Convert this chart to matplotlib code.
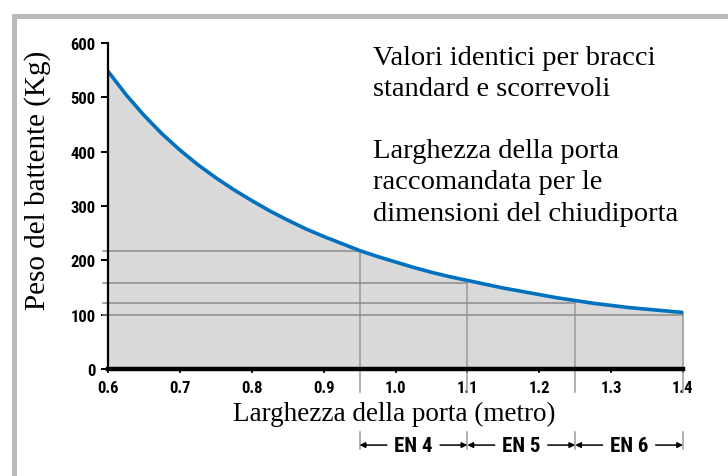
import matplotlib
matplotlib.use("Agg")
import matplotlib.pyplot as plt
from matplotlib.patches import Rectangle
import numpy as np

# Dati
larghezza = [0.600, 0.625, 0.650, 0.675, 0.700, 0.725, 0.750, 0.775, 0.800,
             0.825, 0.850, 0.875, 0.900, 0.925, 0.950, 0.975, 1.000, 1.025,
             1.050, 1.075, 1.100, 1.125, 1.150, 1.175, 1.200, 1.225, 1.250,
             1.275, 1.300, 1.325, 1.350, 1.375, 1.400]
peso = [548, 505, 467, 433, 403, 376, 352, 330, 310,
        291, 274, 258, 244, 231, 218, 207, 197, 187,
        178, 170, 163, 156, 149, 143, 137, 131, 126,
        121, 117, 113, 110, 107, 104]

# Limiti delle classi EN
limiti_x = [0.95, 1.10, 1.25, 1.40]
limiti_y = [218, 158, 121, 100]
classi = ["EN 4", "EN 5", "EN 6"]

x_ticks = [0.6, 0.7, 0.8, 0.9, 1.0, 1.1, 1.2, 1.3, 1.4]
x_labels = ["0.6", "0.7", "0.8", "0.9", "1.0", "1.1", "1.2", "1.3", "1.4"]
y_ticks = [0, 100, 200, 300, 400, 500, 600]

serif = "Liberation Serif"
narrow = ["Roboto Condensed", "Roboto", "DejaVu Sans"]

fig = plt.figure(figsize=(7.28, 4.77), dpi=100)
ax = fig.add_axes([108 / 728, 1 - 370 / 477, 575 / 728, 326 / 477])

# cornice grigia
fig.patches.append(Rectangle((14.5 / 728, -0.1), 2, 0.1 + 1 - 16.5 / 477,
                             transform=fig.transFigure, fill=False,
                             edgecolor="#bababa", linewidth=3.6))

ax.fill_between(larghezza, peso, 0, color="#d9d9d9", lw=0, zorder=1)

# linee di riferimento
for xv, yv in zip(limiti_x, limiti_y):
    ax.plot([0.593, xv], [yv, yv], color="#8c8c8c", lw=1.1, zorder=2, clip_on=False)
    ytop = np.interp(xv, larghezza, peso)
    ax.plot([xv, xv], [ytop, -42], color="#9a9a9a", lw=1.1, zorder=2, clip_on=False)
    ax.plot([xv, xv], [-116, -148], color="#9a9a9a", lw=1.1, zorder=2, clip_on=False)

ax.plot(larghezza, peso, color="#0070c0", lw=2.6, zorder=4,
        solid_capstyle="butt", solid_joinstyle="round")

# frecce EN
y_arr = -140
for i, nome in enumerate(classi):
    x0, x1 = limiti_x[i], limiti_x[i + 1]
    xm = (x0 + x1) / 2
    ax.text(xm, y_arr, nome, ha="center", va="center", fontsize=15,
            fontweight="bold", family=narrow, clip_on=False)
    for start, end in [(xm - 0.037, x0), (xm + 0.037, x1)]:
        ax.annotate("", xy=(end, y_arr), xytext=(start, y_arr),
                    arrowprops=dict(arrowstyle="-|>", color="black", lw=1.1,
                                    mutation_scale=8, shrinkA=0, shrinkB=0),
                    annotation_clip=False)

ax.set_xlim(0.6, 1.4)
ax.set_ylim(0, 600)
ax.set_xticks(x_ticks)
ax.set_xticklabels(x_labels)
ax.set_yticks(y_ticks)
for lab in ax.get_xticklabels() + ax.get_yticklabels():
    lab.set_family(narrow)
    lab.set_fontweight("bold")
    lab.set_fontsize(12)
ax.tick_params(axis="y", length=5, width=1.4, pad=4)
ax.tick_params(axis="x", length=3, width=1.2, pad=5)

ax.spines["top"].set_visible(False)
ax.spines["right"].set_visible(False)
ax.spines["left"].set_linewidth(1.6)
ax.spines["bottom"].set_linewidth(3.2)
ax.spines["bottom"].set_zorder(5)
ax.spines["left"].set_zorder(5)

fig.text(38 / 728, 1 - 180 / 477, "Peso del battente (Kg)", rotation=90,
         ha="center", va="center", fontsize=21, family=serif)
fig.text(394 / 728, 1 - 414 / 477, "Larghezza della porta (metro)",
         ha="center", va="center", fontsize=19.5, family=serif)

fig.text(373 / 728, 1 - 46 / 477, "Valori identici per bracci\nstandard e scorrevoli",
         ha="left", va="top", fontsize=20.5, family=serif, linespacing=1.33)
fig.text(373 / 728, 1 - 139 / 477,
         "Larghezza della porta\nraccomandata per le\ndimensioni del chiudiporta",
         ha="left", va="top", fontsize=20.5, family=serif, linespacing=1.33)

fig.savefig("out.png", dpi=100)
